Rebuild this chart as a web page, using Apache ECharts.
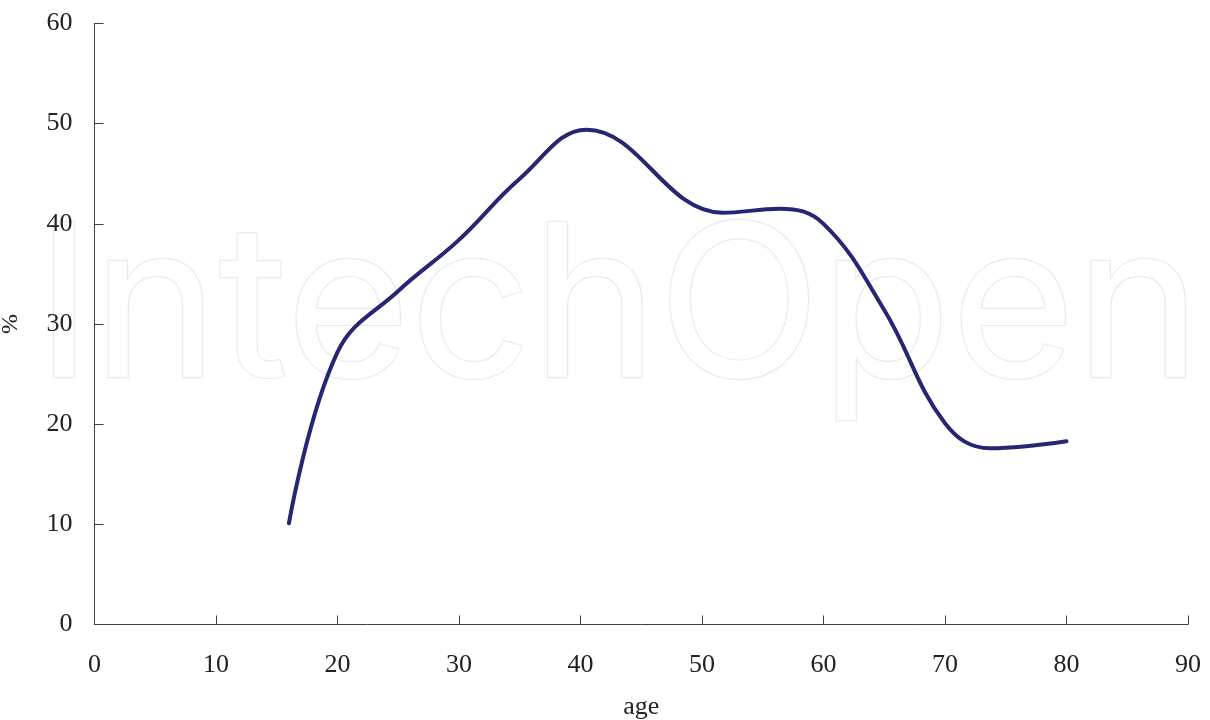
<!DOCTYPE html>
<html>
<head>
<meta charset="utf-8">
<script src="https://cdn.jsdelivr.net/npm/echarts@6/dist/echarts.min.js"></script>
<style>
html,body{margin:0;padding:0;background:#fff;}
#chart{width:1210px;height:720px;}
</style>
</head>
<body>
<div id="chart"></div>
<script>
var ages = [16, 20, 25, 30, 35, 40.5, 51.7, 56.4, 60, 65, 70, 73.7, 80];
var percent = [10.1, 27.2, 33.3, 38.4, 44.5, 49.4, 41.1, 41.5, 40.0, 31.4, 20.1, 17.6, 18.3];
var xTicks = [0, 10, 20, 30, 40, 50, 60, 70, 80, 90];
var yTicks = [0, 10, 20, 30, 40, 50, 60];

var points = ages.map(function (a, i) { return [a, percent[i]]; });
var font = "'Liberation Serif', 'DejaVu Serif', serif";

var chart = echarts.init(document.getElementById('chart'));
chart.setOption({
  backgroundColor: '#ffffff',
  animation: false,
  graphic: [{
    type: 'text',
    left: 34,
    top: 205,
    z: 0,
    silent: true,
    style: {
      text: 'IntechOpen',
      font: '400 213px Inter',
      fill: '#ffffff',
      stroke: '#ebebeb',
      lineWidth: 2.5
    }
  }],
  grid: { left: 94.5, right: 22, top: 23.5, bottom: 95.5, outerBoundsMode: 'none', containLabel: false },
  xAxis: {
    type: 'value',
    min: xTicks[0],
    max: xTicks[xTicks.length - 1],
    interval: 10,
    name: 'age',
    nameLocation: 'middle',
    nameGap: 70,
    nameTextStyle: { fontFamily: font, fontSize: 26, color: '#222' },
    splitLine: { show: false },
    axisLine: { lineStyle: { color: '#404040', width: 1 } },
    axisTick: { inside: true, length: 9, lineStyle: { color: '#404040' } },
    axisLabel: { fontFamily: font, fontSize: 26, color: '#222', margin: 28 }
  },
  yAxis: {
    type: 'value',
    min: yTicks[0],
    max: yTicks[yTicks.length - 1],
    interval: 10,
    name: '%',
    nameLocation: 'middle',
    nameRotate: 90,
    nameGap: 72,
    nameTextStyle: { fontFamily: font, fontSize: 24, color: '#222' },
    splitLine: { show: false },
    axisLine: { show: true, lineStyle: { color: '#404040', width: 1 } },
    axisTick: { show: true, inside: true, length: 9, lineStyle: { color: '#404040' } },
    axisLabel: { fontFamily: font, fontSize: 26, color: '#222', margin: 22 }
  },
  series: [{
    type: 'line',
    data: points,
    smooth: 0.4,
    showSymbol: false,
    symbol: 'none',
    z: 5,
    lineStyle: { color: '#262672', width: 4, cap: 'round' }
  }]
});
</script>
</body>
</html>
